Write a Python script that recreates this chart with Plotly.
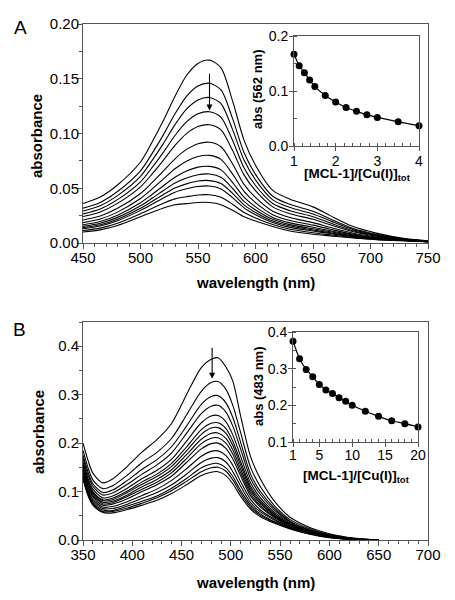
import plotly.graph_objects as go

# ---------------- data ----------------
A_WAVELENGTH = [450, 465, 480, 500, 510, 520, 530, 540, 550, 560, 570, 580, 590, 600, 615, 630, 650, 665, 685, 705, 730, 750]
a01 = [0.036, 0.042, 0.053, 0.074, 0.092, 0.112, 0.134, 0.153, 0.164, 0.167, 0.160, 0.130, 0.094, 0.071, 0.048, 0.040, 0.033, 0.025, 0.015, 0.009, 0.004, 0.002]
a02 = [0.0318, 0.0371, 0.0470, 0.0659, 0.0816, 0.0990, 0.1180, 0.1340, 0.1434, 0.1459, 0.1398, 0.1138, 0.0827, 0.0627, 0.0427, 0.0353, 0.0290, 0.0220, 0.0133, 0.0080, 0.0037, 0.0018]
a03 = [0.0292, 0.0341, 0.0433, 0.0609, 0.0752, 0.0910, 0.1081, 0.1223, 0.1307, 0.1329, 0.1273, 0.1038, 0.0757, 0.0576, 0.0394, 0.0324, 0.0265, 0.0202, 0.0122, 0.0074, 0.0035, 0.0017]
a04 = [0.0266, 0.0311, 0.0396, 0.0559, 0.0688, 0.0830, 0.0982, 0.1106, 0.1180, 0.1199, 0.1148, 0.0938, 0.0687, 0.0525, 0.0361, 0.0295, 0.0240, 0.0183, 0.0112, 0.0068, 0.0033, 0.0016]
a05 = [0.0242, 0.0284, 0.0362, 0.0513, 0.0629, 0.0757, 0.0891, 0.0999, 0.1063, 0.1080, 0.1033, 0.0846, 0.0622, 0.0478, 0.0330, 0.0268, 0.0217, 0.0166, 0.0102, 0.0063, 0.0031, 0.0015]
a06 = [0.0210, 0.0247, 0.0317, 0.0452, 0.0551, 0.0658, 0.0769, 0.0855, 0.0907, 0.0920, 0.0879, 0.0723, 0.0536, 0.0416, 0.0290, 0.0233, 0.0186, 0.0143, 0.0089, 0.0055, 0.0028, 0.0014]
a07 = [0.0186, 0.0219, 0.0282, 0.0406, 0.0492, 0.0585, 0.0678, 0.0747, 0.0790, 0.0800, 0.0764, 0.0631, 0.0472, 0.0369, 0.0259, 0.0206, 0.0163, 0.0126, 0.0080, 0.0050, 0.0027, 0.0013]
a08 = [0.0166, 0.0196, 0.0254, 0.0367, 0.0443, 0.0523, 0.0601, 0.0657, 0.0693, 0.0700, 0.0668, 0.0554, 0.0418, 0.0330, 0.0234, 0.0184, 0.0144, 0.0112, 0.0072, 0.0045, 0.0025, 0.0013]
a09 = [0.0152, 0.0180, 0.0234, 0.0340, 0.0408, 0.0480, 0.0548, 0.0594, 0.0624, 0.0630, 0.0600, 0.0500, 0.0380, 0.0302, 0.0216, 0.0168, 0.0130, 0.0102, 0.0066, 0.0042, 0.0024, 0.0012]
a10 = [0.0140, 0.0166, 0.0217, 0.0317, 0.0379, 0.0443, 0.0502, 0.0540, 0.0566, 0.0570, 0.0543, 0.0454, 0.0348, 0.0279, 0.0201, 0.0155, 0.0119, 0.0093, 0.0061, 0.0039, 0.0023, 0.0012]
a11 = [0.0130, 0.0155, 0.0203, 0.0298, 0.0354, 0.0412, 0.0464, 0.0495, 0.0516, 0.0520, 0.0494, 0.0415, 0.0321, 0.0259, 0.0188, 0.0143, 0.0109, 0.0086, 0.0057, 0.0037, 0.0022, 0.0011]
a12 = [0.0114, 0.0136, 0.0180, 0.0267, 0.0315, 0.0363, 0.0403, 0.0423, 0.0439, 0.0440, 0.0418, 0.0354, 0.0278, 0.0228, 0.0168, 0.0126, 0.0094, 0.0075, 0.0051, 0.0033, 0.0021, 0.0011]
a13 = [0.010, 0.012, 0.016, 0.024, 0.028, 0.032, 0.035, 0.036, 0.037, 0.037, 0.035, 0.030, 0.024, 0.020, 0.015, 0.011, 0.008, 0.0065, 0.0045, 0.003, 0.002, 0.001]
A_SPECTRA = [a01, a02, a03, a04, a05, a06, a07, a08, a09, a10, a11, a12, a13]

A_RATIO = [1, 1.125, 1.25, 1.375, 1.5, 1.75, 2, 2.25, 2.5, 2.75, 3, 3.5, 4]
A_ABS562 = [0.167, 0.146, 0.133, 0.120, 0.108, 0.092, 0.080, 0.070, 0.063, 0.057, 0.052, 0.044, 0.037]

B_WAVELENGTH = [350, 355, 360, 370, 380, 395, 410, 425, 440, 455, 470, 480, 487, 495, 502, 510, 520, 530, 545, 560, 580, 600, 625, 650]
b01 = [0.200, 0.165, 0.138, 0.118, 0.126, 0.152, 0.182, 0.207, 0.241, 0.300, 0.356, 0.373, 0.376, 0.357, 0.328, 0.255, 0.172, 0.126, 0.078, 0.047, 0.026, 0.013, 0.004, 0.000]
b02 = [0.185, 0.150, 0.124, 0.106, 0.112, 0.134, 0.160, 0.181, 0.210, 0.258, 0.307, 0.325, 0.327, 0.311, 0.278, 0.221, 0.150, 0.110, 0.069, 0.042, 0.023, 0.011, 0.003, 0.000]
b03 = [0.175, 0.141, 0.116, 0.098, 0.103, 0.123, 0.146, 0.166, 0.193, 0.235, 0.280, 0.296, 0.298, 0.283, 0.253, 0.201, 0.136, 0.100, 0.064, 0.039, 0.021, 0.010, 0.003, 0.000]
b04 = [0.169, 0.135, 0.111, 0.093, 0.097, 0.115, 0.136, 0.155, 0.180, 0.220, 0.261, 0.276, 0.278, 0.264, 0.235, 0.187, 0.127, 0.094, 0.060, 0.037, 0.020, 0.010, 0.003, 0.000]
b05 = [0.162, 0.128, 0.105, 0.087, 0.091, 0.107, 0.127, 0.144, 0.167, 0.204, 0.242, 0.256, 0.257, 0.244, 0.217, 0.172, 0.118, 0.087, 0.056, 0.035, 0.019, 0.009, 0.002, 0.000]
b06 = [0.157, 0.124, 0.100, 0.083, 0.086, 0.101, 0.120, 0.136, 0.158, 0.192, 0.228, 0.241, 0.242, 0.230, 0.204, 0.161, 0.111, 0.082, 0.053, 0.033, 0.018, 0.009, 0.002, 0.000]
b07 = [0.154, 0.120, 0.098, 0.081, 0.083, 0.098, 0.115, 0.131, 0.152, 0.184, 0.218, 0.231, 0.232, 0.220, 0.195, 0.154, 0.106, 0.078, 0.051, 0.032, 0.017, 0.008, 0.002, 0.000]
b08 = [0.151, 0.117, 0.095, 0.078, 0.080, 0.093, 0.110, 0.125, 0.145, 0.176, 0.208, 0.220, 0.221, 0.210, 0.186, 0.146, 0.101, 0.075, 0.049, 0.031, 0.017, 0.008, 0.002, 0.000]
b09 = [0.147, 0.114, 0.092, 0.075, 0.077, 0.090, 0.105, 0.119, 0.139, 0.168, 0.199, 0.210, 0.211, 0.200, 0.177, 0.139, 0.096, 0.071, 0.047, 0.030, 0.016, 0.007, 0.002, 0.000]
b10 = [0.144, 0.110, 0.089, 0.072, 0.074, 0.085, 0.100, 0.114, 0.132, 0.160, 0.188, 0.199, 0.200, 0.189, 0.167, 0.132, 0.091, 0.068, 0.045, 0.029, 0.016, 0.007, 0.002, 0.000]
b11 = [0.139, 0.105, 0.084, 0.068, 0.069, 0.079, 0.092, 0.105, 0.123, 0.147, 0.173, 0.183, 0.184, 0.174, 0.154, 0.120, 0.084, 0.062, 0.042, 0.027, 0.015, 0.007, 0.002, 0.000]
b12 = [0.134, 0.101, 0.080, 0.065, 0.065, 0.074, 0.086, 0.098, 0.114, 0.136, 0.160, 0.169, 0.170, 0.161, 0.141, 0.111, 0.077, 0.058, 0.040, 0.026, 0.014, 0.006, 0.001, 0.000]
b13 = [0.131, 0.097, 0.077, 0.062, 0.061, 0.070, 0.080, 0.091, 0.107, 0.127, 0.149, 0.157, 0.158, 0.149, 0.131, 0.102, 0.072, 0.054, 0.037, 0.025, 0.013, 0.006, 0.001, 0.000]
b14 = [0.128, 0.095, 0.075, 0.059, 0.059, 0.066, 0.076, 0.087, 0.102, 0.121, 0.141, 0.149, 0.150, 0.142, 0.124, 0.096, 0.068, 0.051, 0.036, 0.024, 0.013, 0.005, 0.001, 0.000]
b15 = [0.125, 0.092, 0.072, 0.057, 0.056, 0.063, 0.072, 0.082, 0.096, 0.114, 0.133, 0.140, 0.141, 0.133, 0.116, 0.090, 0.064, 0.048, 0.034, 0.023, 0.012, 0.005, 0.001, 0.000]
B_SPECTRA = [b01, b02, b03, b04, b05, b06, b07, b08, b09, b10, b11, b12, b13, b14, b15]

B_RATIO = [1, 2, 3, 4, 5, 6, 7, 8, 9, 10, 12, 14, 16, 18, 20]
B_ABS483 = [0.375, 0.327, 0.298, 0.278, 0.257, 0.242, 0.232, 0.221, 0.211, 0.200, 0.184, 0.170, 0.158, 0.150, 0.141]

# ---------------- layout helpers ----------------
VIEW_W, VIEW_H = 455, 600
OFF = 8                      # page body margin in the browser
W, H = VIEW_W - OFF, VIEW_H - OFF
FONT = "Liberation Sans, Arial, Helvetica, sans-serif"
AX = "#555555"


def px_x(p):
    return (p - OFF) / W


def px_y(p):
    return 1 - (p - OFF) / H


def axis(rng, domain, anchor, ticksize, minor_dtick, minor_tick0=0, minor_ticks="outside",
         ticklen=5, **kw):
    d = dict(range=rng, domain=domain, anchor=anchor, automargin=False,
             showline=True, linecolor=AX, linewidth=1, mirror=True,
             ticks="outside", ticklen=ticklen, tickwidth=1, tickcolor=AX,
             tickfont=dict(size=ticksize, color="black", family=FONT),
             showgrid=False, zeroline=False, fixedrange=True,
             minor=dict(ticks=minor_ticks, ticklen=3, tickwidth=1, tickcolor=AX,
                        tickmode="linear", tick0=minor_tick0, dtick=minor_dtick,
                        showgrid=False))
    d.update(kw)
    return d


fig = go.Figure()

line = dict(color="black", width=1.1, shape="spline", smoothing=0.8)
for s in A_SPECTRA:
    fig.add_trace(go.Scatter(x=A_WAVELENGTH, y=s, mode="lines", line=line,
                             xaxis="x", yaxis="y", showlegend=False, hoverinfo="skip"))
fig.add_trace(go.Scatter(x=A_RATIO, y=A_ABS562, mode="lines+markers",
                         line=dict(color="black", width=1.2, shape="spline", smoothing=0.6),
                         marker=dict(color="black", size=7), cliponaxis=False,
                         xaxis="x2", yaxis="y2", showlegend=False))
for s in B_SPECTRA:
    fig.add_trace(go.Scatter(x=B_WAVELENGTH, y=s, mode="lines", line=line,
                             xaxis="x3", yaxis="y3", showlegend=False, hoverinfo="skip"))
fig.add_trace(go.Scatter(x=B_RATIO, y=B_ABS483, mode="lines+markers",
                         line=dict(color="black", width=1.2, shape="spline", smoothing=0.6),
                         marker=dict(color="black", size=7), cliponaxis=False,
                         xaxis="x4", yaxis="y4", showlegend=False))

EPS = 1e-9
layout = dict(
    template="none",
    width=W, height=H, margin=dict(l=0, r=0, t=0, b=0, pad=0, autoexpand=False),
    paper_bgcolor="white", plot_bgcolor="white",
    font=dict(family=FONT, color="black"),
    showlegend=False,
    # panel A main
    xaxis=axis([450, 750], [px_x(83), px_x(428)], "y", 15, 10, dtick=50, tick0=450,
               ticklabelstandoff=-4),
    yaxis=axis([0, 0.2 + EPS], [px_y(243), px_y(24)], "x", 15, 0.025, dtick=0.05,
               tick0=0, tickformat=".2f", ticklabelstandoff=-5),
    # panel A inset
    xaxis2=axis([1, 4 + EPS], [px_x(294), px_x(419)], "y2", 14, 0.2, minor_tick0=1,
                minor_ticks="inside", ticklen=4, dtick=1, tick0=1, ticklabelstandoff=-2),
    yaxis2=axis([0, 0.2 + EPS], [px_y(146), px_y(36)], "x2", 14, 0.05,
                minor_ticks="inside", ticklen=4, dtick=0.1, tick0=0, tickformat=".1f",
                ticklabelstandoff=-2),
    # panel B main
    xaxis3=axis([350, 700], [px_x(83), px_x(428)], "y3", 15, 10, dtick=50, tick0=350,
                ticklabelstandoff=-4),
    yaxis3=axis([0, 0.45], [px_y(540), px_y(322)], "x3", 15, 0.05, dtick=0.1,
                tick0=0, tickformat=".1f", ticklabelstandoff=-5),
    # panel B inset
    xaxis4=axis([1, 20 + EPS], [px_x(293), px_x(418)], "y4", 14, 1, minor_tick0=1,
                minor_ticks="inside", ticklen=4, tickmode="array",
                tickvals=[1, 5, 10, 15, 20], ticklabelstandoff=-4),
    yaxis4=axis([0.1, 0.4 + EPS], [px_y(442), px_y(332)], "x4", 14, 0.05,
                minor_ticks="inside", ticklen=4, dtick=0.1, tick0=0.1, tickformat=".1f",
                ticklabelstandoff=-2),
)
fig.update_layout(**layout)


def label(text, x, y, size, bold=True, angle=0):
    t = f"<b>{text}</b>" if bold else text
    fig.add_annotation(text=t, x=px_x(x), y=px_y(y), xref="paper", yref="paper",
                       showarrow=False, textangle=angle, xanchor="center", yanchor="middle",
                       font=dict(size=size, family=FONT, color="black"))


# axis titles
label("absorbance", 36, 136, 15, angle=-90)
label("wavelength (nm)", 255, 283, 15)
label("abs (562 nm)", 258, 90, 13, angle=-90)
label("[MCL-1]/[Cu(I)]<sub>tot</sub>", 357, 175, 13.5)
label("absorbance", 38, 432, 15, angle=-90)
label("wavelength (nm)", 255, 582, 15)
label("abs (483 nm)", 258, 387, 13, angle=-90)
label("[MCL-1]/[Cu(I)]<sub>tot</sub>", 356, 476, 13.5)
# panel letters
label("A", 20, 28, 19, bold=False)
label("B", 19, 329, 19, bold=False)

# arrows
fig.add_annotation(x=560, y=0.121, ax=560, ay=0.156, xref="x", yref="y", axref="x", ayref="y",
                   showarrow=True, arrowhead=2, arrowsize=1.1, arrowwidth=1.1,
                   arrowcolor="black", text="")
fig.add_annotation(x=481, y=0.333, ax=481, ay=0.400, xref="x3", yref="y3", axref="x3",
                   ayref="y3", showarrow=True, arrowhead=2, arrowsize=1.1, arrowwidth=1.1,
                   arrowcolor="black", text="")

fig.write_html("out.html")
